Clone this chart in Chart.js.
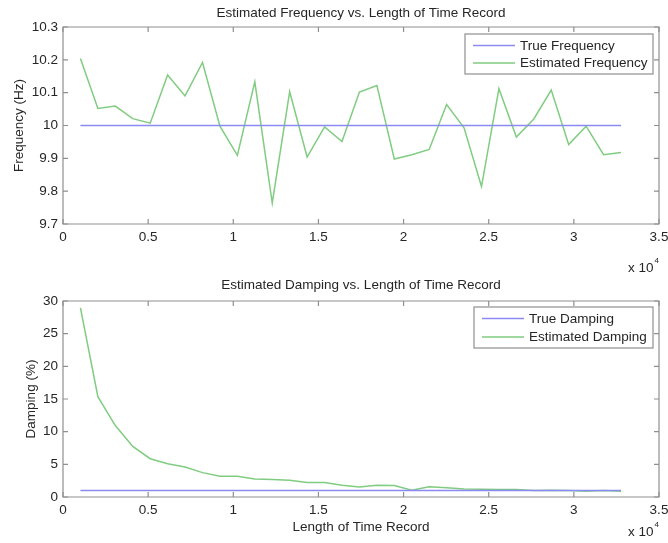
<!DOCTYPE html>
<html>
<head>
<meta charset="utf-8">
<script src="https://cdn.jsdelivr.net/npm/chart.js@4.4.1/dist/chart.umd.min.js"></script>
<style>
  html, body { margin: 0; padding: 0; background: #ffffff; }
  #wrap { position: relative; width: 668px; height: 543px; background: #ffffff; overflow: hidden; }
  canvas { position: absolute; left: 0; }
  #c1 { top: 0; }
  #c2 { top: 271px; }
</style>
</head>
<body>
<div id="wrap">
  <canvas id="c1" width="668" height="285"></canvas>
  <canvas id="c2" width="668" height="272"></canvas>
</div>
<script>
// ---------- data ----------
const recordLengths = [1024, 2048, 3072, 4096, 5120, 6144, 7168, 8192, 9216, 10240,
  11264, 12288, 13312, 14336, 15360, 16384, 17408, 18432, 19456, 20480,
  21504, 22528, 23552, 24576, 25600, 26624, 27648, 28672, 29696, 30720,
  31744, 32768];

const trueFrequency = [10, 10, 10, 10, 10, 10, 10, 10, 10, 10,
  10, 10, 10, 10, 10, 10, 10, 10, 10, 10,
  10, 10, 10, 10, 10, 10, 10, 10, 10, 10, 10, 10];

const estimatedFrequency = [10.204, 10.052, 10.059, 10.021, 10.007, 10.154, 10.090, 10.192, 9.998, 9.909,
  10.133, 9.764, 10.103, 9.904, 9.996, 9.951, 10.102, 10.122, 9.898, 9.911,
  9.927, 10.064, 9.993, 9.814, 10.112, 9.965, 10.020, 10.108, 9.942, 9.998,
  9.911, 9.918];

const trueDamping = [1, 1, 1, 1, 1, 1, 1, 1, 1, 1,
  1, 1, 1, 1, 1, 1, 1, 1, 1, 1,
  1, 1, 1, 1, 1, 1, 1, 1, 1, 1, 1, 1];

const estimatedDamping = [28.96, 15.36, 10.94, 7.74, 5.86, 5.10, 4.59, 3.73, 3.17, 3.17,
  2.77, 2.66, 2.56, 2.21, 2.21, 1.80, 1.55, 1.80, 1.75, 1.04,
  1.55, 1.40, 1.24, 1.19, 1.14, 1.14, 1.00, 1.04, 0.99, 0.89,
  0.99, 0.89];

const xTickValues = [0, 5000, 10000, 15000, 20000, 25000, 30000, 35000];
const xTickLabels = ['0', '0.5', '1', '1.5', '2', '2.5', '3', '3.5'];
const freqTickValues = [9.7, 9.8, 9.9, 10.0, 10.1, 10.2, 10.3];
const freqTickLabels = ['9.7', '9.8', '9.9', '10', '10.1', '10.2', '10.3'];
const dampTickValues = [0, 5, 10, 15, 20, 25, 30];
const dampTickLabels = ['0', '5', '10', '15', '20', '25', '30'];

// ---------- styling ----------
const FONT = "'Liberation Sans', Arial, Helvetica, sans-serif";
const TEXT = '#262626';
const BOX = '#8f8f8f';
const BLUE = '#8a8af2';
const GREEN = '#80cc80';

function pts(xs, ys) { return xs.map((x, i) => ({ x: x, y: ys[i] })); }

const decor = {
  id: 'decor',
  beforeDatasetsDraw(chart, args, o) {
    const { ctx, chartArea: a, scales } = chart;
    const x = scales.x, y = scales.y;
    ctx.save();
    ctx.strokeStyle = BOX;
    ctx.lineWidth = 1.2;
    ctx.beginPath();
    ctx.rect(a.left, a.top, a.right - a.left, a.bottom - a.top);
    ctx.stroke();
    ctx.beginPath();
    x.ticks.forEach(t => {
      const px = x.getPixelForValue(t.value);
      ctx.moveTo(px, a.bottom); ctx.lineTo(px, a.bottom - 5);
      ctx.moveTo(px, a.top); ctx.lineTo(px, a.top + 5);
    });
    y.ticks.forEach(t => {
      const py = y.getPixelForValue(t.value);
      ctx.moveTo(a.left, py); ctx.lineTo(a.left + 5, py);
      ctx.moveTo(a.right, py); ctx.lineTo(a.right - 5, py);
    });
    ctx.stroke();
    ctx.restore();
  },
  afterDraw(chart, args, o) {
    const { ctx, chartArea: a } = chart;
    ctx.save();
    ctx.fillStyle = TEXT;
    // title
    ctx.font = '13.5px ' + FONT;
    ctx.textAlign = 'center';
    ctx.textBaseline = 'middle';
    ctx.fillText(o.title, (a.left + a.right) / 2, o.titleY);
    // y label
    ctx.save();
    ctx.translate(o.yLabelX, (a.top + a.bottom) / 2);
    ctx.rotate(-Math.PI / 2);
    ctx.fillText(o.yLabel, 0, 0);
    ctx.restore();
    // x label
    if (o.xLabel) ctx.fillText(o.xLabel, (a.left + a.right) / 2, o.xLabelY);
    // exponent
    ctx.textAlign = 'left';
    ctx.font = '13.5px ' + FONT;
    ctx.fillText('x 10', o.expX, o.expY);
    const w = ctx.measureText('x 10').width;
    ctx.font = '8px ' + FONT;
    ctx.fillText('4', o.expX + w + 1, o.expY - 7);
    // legend
    const L = o.legend;
    const lx = a.right - L.right - L.w;
    const ly = a.top + L.top;
    ctx.fillStyle = '#ffffff';
    ctx.fillRect(lx, ly, L.w, L.h);
    ctx.strokeStyle = BOX;
    ctx.lineWidth = 1.2;
    ctx.strokeRect(lx, ly, L.w, L.h);
    ctx.font = '13.5px ' + FONT;
    ctx.textBaseline = 'middle';
    L.items.forEach((it, i) => {
      const yy = ly + L.first + i * L.gap;
      ctx.strokeStyle = it.color;
      ctx.lineWidth = 1.5;
      ctx.beginPath();
      ctx.moveTo(lx + 8, yy); ctx.lineTo(lx + 50, yy);
      ctx.stroke();
      ctx.fillStyle = TEXT;
      ctx.fillText(it.label, lx + 55, yy + 0.5);
    });
    ctx.restore();
  }
};

function makeChart(id, cfg) {
  return new Chart(document.getElementById(id), {
    type: 'line',
    data: {
      datasets: [
        { label: cfg.names[0], data: pts(recordLengths, cfg.series[0]), borderColor: BLUE, borderWidth: 1.5, pointRadius: 0, tension: 0, fill: false },
        { label: cfg.names[1], data: pts(recordLengths, cfg.series[1]), borderColor: GREEN, borderWidth: 1.5, pointRadius: 0, tension: 0, fill: false }
      ]
    },
    options: {
      responsive: false,
      animation: false,
      events: [],
      layout: { padding: { left: 0, right: 9, top: cfg.top, bottom: 0 } },
      plugins: {
        legend: { display: false },
        tooltip: { enabled: false },
        title: { display: false },
        decor: cfg.decor
      },
      scales: {
        x: {
          type: 'linear', min: 0, max: 35000,
          grid: { display: false, drawTicks: false }, border: { display: false },
          afterBuildTicks: s => { s.ticks = xTickValues.map(v => ({ value: v })); },
          afterFit: s => { s.height = cfg.xh; s.paddingLeft = 0; s.paddingRight = 0; },
          ticks: {
            padding: 5, maxRotation: 0, autoSkip: false, color: TEXT,
            font: { family: FONT, size: 13.5 },
            callback: (v, i) => xTickLabels[i]
          }
        },
        y: {
          type: 'linear', min: cfg.ymin, max: cfg.ymax,
          grid: { display: false, drawTicks: false }, border: { display: false },
          afterBuildTicks: s => { s.ticks = cfg.yvals.map(v => ({ value: v })); },
          afterFit: s => { s.width = 63; s.paddingTop = 0; s.paddingBottom = 0; },
          ticks: {
            padding: 5, autoSkip: false, color: TEXT,
            font: { family: FONT, size: 13.5 },
            callback: (v, i) => cfg.ylabels[i]
          }
        }
      }
    },
    plugins: [decor]
  });
}

makeChart('c1', {
  names: ['True Frequency', 'Estimated Frequency'],
  series: [trueFrequency, estimatedFrequency],
  top: 27, xh: 61, ymin: 9.7, ymax: 10.3,
  yvals: freqTickValues, ylabels: freqTickLabels,
  decor: {
    title: 'Estimated Frequency vs. Length of Time Record', titleY: 13,
    yLabel: 'Frequency (Hz)', yLabelX: 19,
    xLabel: null, xLabelY: 0,
    expX: 628, expY: 268,
    legend: { right: 6, top: 7, w: 188, h: 40, first: 11.5, gap: 17.5,
      items: [{ label: 'True Frequency', color: BLUE }, { label: 'Estimated Frequency', color: GREEN }] }
  }
});

makeChart('c2', {
  names: ['True Damping', 'Estimated Damping'],
  series: [trueDamping, estimatedDamping],
  top: 30, xh: 46, ymin: 0, ymax: 30,
  yvals: dampTickValues, ylabels: dampTickLabels,
  decor: {
    title: 'Estimated Damping vs. Length of Time Record', titleY: 14,
    yLabel: 'Damping (%)', yLabelX: 31,
    xLabel: 'Length of Time Record', xLabelY: 256,
    expX: 628, expY: 261,
    legend: { right: 6, top: 6, w: 179, h: 41, first: 11.5, gap: 18.5,
      items: [{ label: 'True Damping', color: BLUE }, { label: 'Estimated Damping', color: GREEN }] }
  }
});
</script>
</body>
</html>
